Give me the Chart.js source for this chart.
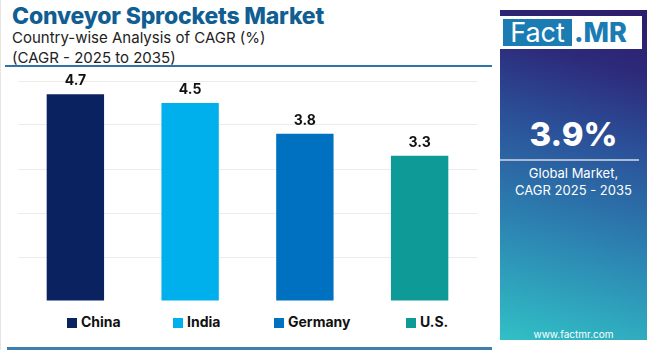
<!DOCTYPE html>
<html>
<head>
<meta charset="utf-8">
<script src="https://cdn.jsdelivr.net/npm/chart.js@4/dist/chart.umd.min.js"></script>
<style>
  html, body { margin: 0; padding: 0; background: #fff; }
  #wrap { position: relative; width: 650px; height: 350px; overflow: hidden; background: #fff; font-family: Inter, "Open Sans", sans-serif; }
  #title { position: absolute; left: 12px; top: 2px; font-size: 23px; font-weight: 800; color: #115e93; letter-spacing: -0.2px; white-space: nowrap; }
  .sub { position: absolute; left: 12px; font-size: 15px; color: #222; white-space: nowrap; }
  #rule1 { position: absolute; left: 5px; top: 65px; width: 487px; height: 2px; background: #2d74a8; }
  #rule2 { position: absolute; left: 7px; top: 347px; width: 485px; height: 3px; background: #3f7fb0; }
  #frame { position: absolute; left: 0; top: 0; width: 1px; height: 350px; background: #e4e4e4; }
  #chartbox { position: absolute; left: 0; top: 67px; width: 495px; height: 234px; }
  #legend { position: absolute; top: 313px; left: 0; width: 495px; height: 20px; }
  .li { position: absolute; top: 0; font-size: 14px; font-weight: 700; color: #111; line-height: 18px; white-space: nowrap; }
  .li span { display: inline-block; width: 10px; height: 10px; margin-right: 4px; vertical-align: -1px; }
  #panel { position: absolute; left: 500px; top: 10px; width: 147px; height: 330px;
    background: linear-gradient(15deg, #31c0c6 0%, #2c7fb0 35%, #2b4f98 62%, #2d2a7a 82%, #2e1b6b 100%); }
  #logo { position: absolute; left: 0px; top: 6px; width: 142px; height: 33px; background: #fff; }
  #logoBlue { position: absolute; left: 3px; top: 3px; width: 69px; height: 27px; background: #1b7cb4; color: #fff; font-size: 27px; line-height: 27px; text-align: center; font-family: Inter, sans-serif; font-weight: 400; }
  #logoMR { position: absolute; left: 74px; top: 3px; height: 27px; color: #1b7cb4; font-size: 27px; line-height: 27px; font-weight: 800; font-family: Inter, sans-serif; }
  #big { position: absolute; left: 0; width: 147px; top: 104px; text-align: center; color: #fff; font-size: 33px; font-weight: 800; }
  #prule { position: absolute; left: 0px; width: 139px; top: 149px; height: 2px; background: #a9b9d6; }
  #glob { position: absolute; left: 0; width: 147px; top: 155px; text-align: center; color: #fff; font-size: 13px; line-height: 17px; }
  #url { position: absolute; left: 0; width: 147px; top: 318px; text-align: center; color: #fff; font-size: 10px; }
</style>
</head>
<body>
<div id="wrap">
  <div id="frame"></div>
  <div id="title">Conveyor Sprockets Market</div>
  <div class="sub" style="top:28px">Country-wise Analysis of CAGR (%)</div>
  <div class="sub" style="top:48px">(CAGR - 2025 to 2035)</div>
  <div id="rule1"></div>
  <div id="chartbox"><canvas id="c"></canvas></div>
  <div id="legend"></div>
  <div id="rule2"></div>
  <div id="panel">
    <div id="logo"><div id="logoBlue">Fact</div><div id="logoMR">.MR</div></div>
    <div id="big">3.9%</div>
    <div id="prule"></div>
    <div id="glob">Global Market,<br>CAGR 2025 - 2035</div>
    <div id="url">www.factmr.com</div>
  </div>
</div>
<script>
const categories = ["China", "India", "Germany", "U.S."];
const cagrValues = [4.7, 4.5, 3.8, 3.3];
const barColors = ["#0b2260", "#00b0ec", "#0071c1", "#0e9a97"];
const yTicks = [0, 1, 2, 3, 4, 5];
const legendLeft = [67, 173, 274, 406];

const legendEl = document.getElementById('legend');
categories.forEach((c, i) => {
  const d = document.createElement('div');
  d.className = 'li';
  d.style.left = legendLeft[i] + 'px';
  d.innerHTML = '<span style="background:' + barColors[i] + '"></span>' + c;
  legendEl.appendChild(d);
});

const valueLabels = {
  id: 'valueLabels',
  afterDatasetsDraw(chart) {
    const ctx = chart.ctx;
    const meta = chart.getDatasetMeta(0);
    ctx.save();
    ctx.font = 'bold 14px Inter, sans-serif';
    ctx.fillStyle = '#111';
    ctx.textAlign = 'center';
    ctx.textBaseline = 'bottom';
    meta.data.forEach((bar, i) => {
      ctx.fillText(cagrValues[i].toFixed(1), bar.x, bar.y - 6);
    });
    ctx.restore();
  }
};

new Chart(document.getElementById('c'), {
  type: 'bar',
  data: {
    labels: categories,
    datasets: [{
      data: cagrValues,
      backgroundColor: barColors,
      barPercentage: 0.5,
      categoryPercentage: 1.0
    }]
  },
  options: {
    responsive: true,
    maintainAspectRatio: false,
    animation: false,
    layout: { padding: { left: 18, right: 18, top: 14, bottom: 0 } },
    scales: {
      x: {
        ticks: { display: false },
        grid: { display: false, drawTicks: false },
        border: { display: false }
      },
      y: {
        min: 0, max: 5,
        afterBuildTicks: (axis) => { axis.ticks = yTicks.map(v => ({ value: v })); },
        ticks: { display: false },
        grid: { color: '#ececec', lineWidth: 1, drawTicks: false },
        border: { display: false }
      }
    },
    plugins: {
      tooltip: { enabled: false },
      legend: { display: false }
    }
  },
  plugins: [valueLabels]
});
</script>
</body>
</html>
